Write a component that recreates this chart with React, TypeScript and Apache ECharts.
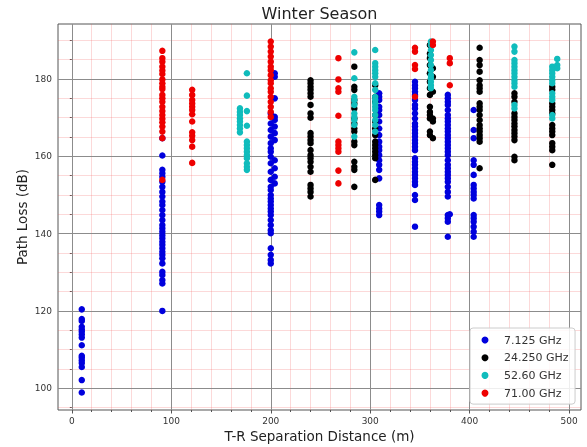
import React, { useEffect, useRef } from "react";
import * as echarts from "echarts";

const FONT = "DejaVu Sans";

// Series names
const seriesNames = ["7.125 GHz", "24.250 GHz", "52.60 GHz", "71.00 GHz"];
const seriesColors = ["#0000dd", "#000000", "#10bcbc", "#ee0000"];

// Axis ticks
const xMajor = [0, 100, 200, 300, 400, 500];
const yMajor = [100, 120, 140, 160, 180];
const xMinor = [20, 40, 60, 80, 120, 140, 160, 180, 220, 240, 260, 280, 320, 340, 360, 380, 420, 440, 460, 480];
const yMinor = [95, 105, 110, 115, 125, 130, 135, 145, 150, 155, 165, 170, 175, 185, 190];
const xRange = [-13.9, 511.9];
const yRange = [94.36, 194.24];

// 7.125 GHz (blue) path loss values, per T-R distance
const blue_10 = [120.4, 117.9, 117.4, 115.9, 115.2, 114.6, 113.9, 113.1, 111.1, 108.4, 107.9, 107.2, 106.5, 105.5, 102.1, 98.9];
const blue_91 = [164.7, 160.2, 156.5, 155.6, 154.7, 153.4, 152.1, 150.8, 149.6, 148.3, 147.4, 146.1, 144.8, 143.5, 142.2, 141.4, 140.5, 139.6, 138.8, 137.9, 137.1, 136.2, 135.3, 134.5, 133.6, 132.3, 130.1, 129.3, 128.0, 127.1, 120.0];
const blue_200 = [171.1, 168.5, 166.8, 165.1, 163.4, 162.1, 161.2, 159.9, 158.2, 156.0, 153.9, 152.1, 151.3, 150.0, 149.1, 148.3, 147.4, 146.5, 145.7, 144.8, 143.5, 142.2, 140.9, 140.1, 136.2, 134.5, 133.2, 132.3];
const blue_204 = [181.5, 180.6, 175.0, 170.2, 169.4, 167.7, 166.0, 164.2, 159.0, 156.9, 154.7, 153.0];
const blue_309 = [176.3, 175.4, 174.6, 172.8, 172.0, 170.7, 169.0, 167.2, 165.5, 163.8, 162.5, 161.6, 160.3, 159.0, 157.8, 156.5, 154.3, 147.4, 146.5, 145.7, 144.8];
const blue_345 = [179.3, 178.4, 177.6, 176.7, 175.9, 174.6, 173.3, 172.4, 171.1, 169.8, 168.5, 167.7, 166.8, 166.0, 165.1, 164.2, 163.4, 162.5, 161.6, 159.5, 158.6, 157.8, 156.9, 156.0, 155.2, 154.3, 153.4, 152.6, 150.0, 148.7, 141.8];
const blue_378 = [175.9, 175.0, 174.1, 173.3, 172.0, 170.7, 169.8, 169.0, 168.1, 167.2, 166.4, 165.5, 164.7, 163.8, 162.9, 162.1, 161.2, 160.3, 159.0, 157.8, 156.9, 156.0, 155.2, 154.3, 153.4, 152.1, 150.8, 149.6, 144.8, 144.0, 143.1, 139.2];
const blue_380 = [145.0];
const blue_404 = [172.0, 166.8, 164.7, 159.0, 157.8, 155.2, 152.6, 151.7, 150.8, 150.0, 149.1, 144.8, 144.0, 143.1, 141.8, 140.5, 139.2];

// 24.250 GHz (black)
const black_240 = [179.7, 178.9, 178.0, 177.2, 176.3, 175.4, 173.3, 171.1, 170.0, 166.0, 165.1, 164.2, 163.4, 161.6, 160.3, 159.5, 158.6, 157.3, 156.0, 152.6, 151.7, 150.8, 149.6];
const black_284 = [183.2, 178.0, 177.2, 174.6, 173.7, 172.4, 169.8, 168.5, 167.2, 166.4, 163.8, 162.9, 158.6, 157.3, 156.5, 152.1];
const black_305 = [178.4, 175.4, 174.1, 170.7, 169.0, 167.2, 165.5, 163.8, 162.9, 162.1, 161.2, 160.3, 159.5, 153.9];
const black_360 = [188.8, 186.6, 185.4, 183.6, 181.5, 179.3, 177.6, 175.9, 172.8, 171.5, 170.7, 169.8, 166.4, 165.5];
const black_363 = [182.8, 180.6, 176.7, 169.8, 169.0, 164.7];
const black_410 = [188.1, 184.9, 183.6, 181.9, 179.7, 178.4, 177.6, 176.7, 173.7, 172.8, 172.0, 170.7, 169.4, 168.1, 167.2, 166.4, 165.5, 164.7, 163.8, 156.9];
const black_445 = [176.3, 175.4, 174.1, 171.1, 170.2, 169.4, 168.5, 167.7, 166.8, 166.0, 165.1, 164.2, 159.9, 159.0];
const black_483 = [178.0, 177.2, 173.7, 172.8, 172.0, 171.1, 168.1, 167.2, 166.4, 165.5, 163.4, 162.5, 161.6, 157.8];

// 52.60 GHz (cyan)
const cyan_169 = [172.4, 171.5, 170.7, 169.8, 169.0, 168.1, 167.2, 166.2];
const cyan_176 = [181.5, 175.7, 171.7, 167.9, 163.8, 162.9, 162.1, 161.2, 160.3, 159.5, 158.2, 157.3, 156.5];
const cyan_284 = [186.9, 180.2, 175.4, 174.6, 173.3, 171.1, 170.2, 169.4, 168.1, 165.1];
const cyan_305 = [187.5, 184.1, 183.2, 182.3, 181.5, 180.6, 178.9, 177.2, 175.4, 174.6, 173.7, 172.8, 172.0, 170.7, 169.4, 168.1, 166.4];
const cyan_361 = [189.7, 188.8, 187.5, 186.2, 184.9, 183.6, 182.3, 181.0, 180.2, 179.3, 178.4, 177.6];
const cyan_445 = [188.4, 187.1, 184.9, 184.1, 183.2, 182.3, 181.5, 180.6, 179.7, 178.9, 178.0, 173.3, 172.4];
const cyan_483 = [183.2, 182.3, 181.5, 180.6, 179.7, 178.9, 176.3, 175.4, 174.6, 170.7, 169.8];
const cyan_488 = [185.2, 183.6, 182.8];

// 71.00 GHz (red)
const red_91 = [187.3, 185.4, 184.5, 183.2, 182.2, 181.3, 179.9, 178.9, 178.0, 177.4, 175.9, 175.0, 174.1, 172.8, 171.7, 170.7, 169.7, 168.8, 167.7, 166.4, 164.7, 153.9];
const red_121 = [177.2, 175.9, 174.6, 173.7, 172.8, 172.0, 170.9, 169.0, 166.2, 165.3, 164.2, 162.5, 158.3];
const red_200 = [189.7, 188.4, 187.1, 185.8, 184.5, 183.2, 182.3, 181.0, 179.7, 178.9, 177.6, 176.7, 175.4, 174.1, 172.8, 171.5, 170.2];
const red_268 = [185.4, 179.9, 177.6, 176.7, 170.5, 163.8, 162.9, 162.1, 161.2, 156.3, 153.0];
const red_345 = [188.1, 187.1, 183.6, 182.6, 175.4];
const red_363 = [189.7, 188.8];
const red_380 = [185.4, 184.1, 178.4];

const col = (d: number, vals: number[]) => vals.map((v) => [d, v]);

const blueData = [
  ...col(10, blue_10), ...col(91, blue_91), ...col(200, blue_200), ...col(204, blue_204),
  ...col(309, blue_309), ...col(345, blue_345), ...col(378, blue_378), ...col(380, blue_380), ...col(404, blue_404),
];
const blackData = [
  ...col(240, black_240), ...col(284, black_284), ...col(305, black_305), ...col(360, black_360),
  ...col(363, black_363), ...col(410, black_410), ...col(445, black_445), ...col(483, black_483),
];
const cyanData = [
  ...col(169, cyan_169), ...col(176, cyan_176), ...col(284, cyan_284), ...col(305, cyan_305),
  ...col(361, cyan_361), ...col(445, cyan_445), ...col(483, cyan_483), ...col(488, cyan_488),
];
const redData = [
  ...col(91, red_91), ...col(121, red_121), ...col(200, red_200), ...col(268, red_268),
  ...col(345, red_345), ...col(363, red_363), ...col(380, red_380),
];
const allData = [blueData, blackData, cyanData, redData];

export default function App() {
  const ref = useRef<HTMLDivElement>(null);
  useEffect(() => {
    if (!ref.current) return;
    const chart = echarts.init(ref.current, undefined, { renderer: "svg" });

    const majorLine = { color: "#8c8c8c", width: 1, type: "solid" };
    const minorLine = { color: "rgba(240,80,80,0.28)", width: 0.8, type: "solid" };
    const gridLines: any[] = [
      ...xMinor.map((v) => ({ xAxis: v, lineStyle: minorLine })),
      ...yMinor.map((v) => ({ yAxis: v, lineStyle: minorLine })),
      ...xMajor.map((v) => ({ xAxis: v, lineStyle: majorLine })),
      ...yMajor.map((v) => ({ yAxis: v, lineStyle: majorLine })),
    ];

    const series: any[] = allData.map((d, i) => ({
      name: seriesNames[i],
      type: "scatter",
      data: d,
      symbolSize: 6.5,
      z: 2 + i,
      itemStyle: { color: seriesColors[i], opacity: 1 },
      ...(i === 0
        ? {
            markLine: {
              silent: true,
              symbol: ["none", "none"],
              label: { show: false },
              z: 1,
              animation: false,
              emphasis: { disabled: true },
              data: gridLines,
            },
          }
        : {}),
    }));

    const tickColor = "#555";
    chart.setOption({
      animation: false,
      textStyle: { fontFamily: FONT },
      title: {
        text: "Winter Season",
        left: 319.5,
        textAlign: "center",
        top: 4,
        padding: 0,
        textStyle: { fontSize: 16, fontWeight: "normal", color: "#222", lineHeight: 18, fontFamily: FONT },
      },
      grid: { left: 58, right: 6, top: 24, bottom: 37, show: true, borderColor: "#555", borderWidth: 1, backgroundColor: "transparent" },
      legend: {
        data: seriesNames,
        orient: "vertical",
        left: 470,
        top: 328,
        icon: "circle",
        itemWidth: 7,
        itemHeight: 7,
        itemGap: 4.7,
        padding: [5.5, 6.5, 4.5, 11.5],
        borderColor: "#cccccc",
        borderWidth: 1,
        borderRadius: 3,
        backgroundColor: "rgba(255,255,255,0.85)",
        textStyle: { fontSize: 11, color: "#333", lineHeight: 13, padding: [0, 0, 0, 10.5], fontFamily: FONT },
      },
      xAxis: [
        {
          type: "value",
          min: xRange[0],
          max: xRange[1],
          axisLine: { show: false },
          axisTick: { show: true, customValues: xMajor, length: 3.5, lineStyle: { color: tickColor } },
          axisLabel: { customValues: xMajor, fontSize: 9, color: "#333", margin: 6, fontFamily: FONT },
          splitLine: { show: false },
        },
        {
          type: "value",
          position: "bottom",
          min: xRange[0],
          max: xRange[1],
          axisLine: { show: false },
          axisTick: { show: true, customValues: xMinor, length: 2, lineStyle: { color: tickColor } },
          axisLabel: { show: false },
          splitLine: { show: false },
        },
      ],
      yAxis: [
        {
          type: "value",
          min: yRange[0],
          max: yRange[1],
          axisLine: { show: false },
          axisTick: { show: true, customValues: yMajor, length: 3.5, lineStyle: { color: tickColor } },
          axisLabel: { customValues: yMajor, fontSize: 9, color: "#333", margin: 6, fontFamily: FONT },
          splitLine: { show: false },
        },
        {
          type: "value",
          position: "left",
          min: yRange[0],
          max: yRange[1],
          axisLine: { show: false },
          axisTick: { show: true, customValues: yMinor, length: 2, lineStyle: { color: tickColor } },
          axisLabel: { show: false },
          splitLine: { show: false },
        },
      ],
      graphic: [
        {
          type: "text",
          x: 319.5,
          y: 436,
          silent: true,
          style: {
            text: "T-R Separation Distance (m)",
            font: `13.5px '${FONT}'`,
            fill: "#222",
            align: "center",
            verticalAlign: "middle",
            textAlign: "center",
            textVerticalAlign: "middle",
          },
        },
        {
          type: "text",
          x: 22,
          y: 217,
          rotation: Math.PI / 2,
          silent: true,
          style: {
            text: "Path Loss (dB)",
            font: `13.5px '${FONT}'`,
            fill: "#222",
            align: "center",
            verticalAlign: "middle",
            textAlign: "center",
            textVerticalAlign: "middle",
          },
        },
      ],
      series,
    });
    return () => chart.dispose();
  }, []);

  return (
    <div
      ref={ref}
      style={{ position: "fixed", left: 0, top: 0, width: 587, height: 447 }}
    />
  );
}
